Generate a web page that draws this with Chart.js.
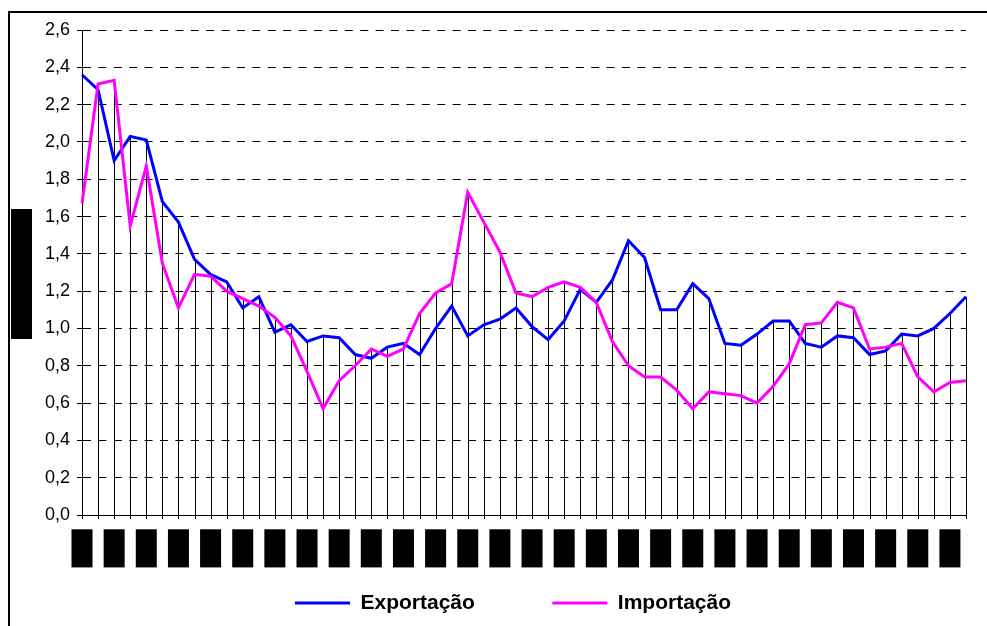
<!DOCTYPE html>
<html>
<head>
<meta charset="utf-8">
<script src="https://cdn.jsdelivr.net/npm/chart.js@4/dist/chart.umd.min.js"></script>
<style>
html,body{margin:0;padding:0;background:#fff;overflow:hidden;}
#wrap{position:relative;width:987px;height:626px;overflow:hidden;}
#frame{position:absolute;left:8px;top:11px;width:1200px;height:1000px;border-left:2px solid #000;border-top:2px solid #000;pointer-events:none;}
canvas{position:absolute;left:0;top:0;}
</style>
</head>
<body>
<div id="wrap"><canvas id="c" width="987" height="626"></canvas><div id="frame"></div></div>
<script>
const categories = [
  "1990.1","1990.2","1990.3","1990.4","1991.1","1991.2","1991.3","1991.4",
  "1992.1","1992.2","1992.3","1992.4","1993.1","1993.2","1993.3","1993.4",
  "1994.1","1994.2","1994.3","1994.4","1995.1","1995.2","1995.3","1995.4",
  "1996.1","1996.2","1996.3","1996.4","1997.1","1997.2","1997.3","1997.4",
  "1998.1","1998.2","1998.3","1998.4","1999.1","1999.2","1999.3","1999.4",
  "2000.1","2000.2","2000.3","2000.4","2001.1","2001.2","2001.3","2001.4",
  "2002.1","2002.2","2002.3","2002.4","2003.1","2003.2","2003.3","2003.4"
];
const exportacao = [2.36, 2.28, 1.90, 2.03, 2.01, 1.68, 1.57, 1.37, 1.29, 1.25, 1.11, 1.17, 0.98, 1.02, 0.93, 0.96, 0.95, 0.86, 0.84, 0.90, 0.92, 0.86, 1.00, 1.12, 0.96, 1.02, 1.05, 1.11, 1.01, 0.94, 1.04, 1.21, 1.14, 1.26, 1.47, 1.38, 1.10, 1.10, 1.24, 1.16, 0.92, 0.91, 0.97, 1.04, 1.04, 0.92, 0.90, 0.96, 0.95, 0.86, 0.88, 0.97, 0.96, 1.00, 1.08, 1.17];
const importacao = [1.67, 2.31, 2.33, 1.55, 1.87, 1.35, 1.11, 1.29, 1.28, 1.20, 1.16, 1.12, 1.06, 0.96, 0.77, 0.57, 0.72, 0.80, 0.89, 0.85, 0.89, 1.08, 1.19, 1.24, 1.73, 1.57, 1.41, 1.19, 1.17, 1.22, 1.25, 1.22, 1.14, 0.93, 0.80, 0.74, 0.74, 0.67, 0.57, 0.66, 0.65, 0.64, 0.60, 0.69, 0.81, 1.02, 1.03, 1.14, 1.11, 0.89, 0.90, 0.92, 0.74, 0.66, 0.71, 0.72];
const seriesNames = ["Exportação", "Importação"];
const yTickValues = [0, 0.2, 0.4, 0.6, 0.8, 1.0, 1.2, 1.4, 1.6, 1.8, 2.0, 2.2, 2.4, 2.6];
const yTitle = "Índice";

const FONT = "'Liberation Sans', Arial, sans-serif";

const dropLines = {
  id: 'dropLines',
  beforeDatasetsDraw(chart) {
    const {ctx, chartArea} = chart;
    const a = chart.getDatasetMeta(0).data, b = chart.getDatasetMeta(1).data;
    ctx.save();
    ctx.strokeStyle = '#000';
    ctx.lineWidth = 1;
    ctx.beginPath();
    for (let i = 0; i < a.length; i++) {
      const px = Math.round(a[i].x) + 0.5;
      const top = Math.min(a[i].y, b[i].y);
      ctx.moveTo(px, top);
      ctx.lineTo(px, chartArea.bottom + 4);
    }
    ctx.stroke();
    ctx.restore();
  }
};

const yTitleBox = {
  id: 'yTitleBox',
  afterDraw(chart) {
    const {ctx, chartArea} = chart;
    const cy = (chartArea.top + chartArea.bottom) / 2 + 1.5;
    const w = 21, h = 130, x = 11;
    ctx.save();
    ctx.fillStyle = '#000';
    ctx.fillRect(x, cy - h / 2, w, h);
    ctx.translate(x + w / 2, cy);
    ctx.rotate(-Math.PI / 2);
    ctx.font = "bold 16px " + FONT;
    ctx.textAlign = 'center';
    ctx.textBaseline = 'middle';
    ctx.fillText(yTitle, 0, 0);
    ctx.restore();
  }
};

new Chart(document.getElementById('c'), {
  type: 'line',
  data: {
    labels: categories,
    datasets: [
      {label: seriesNames[0], data: exportacao, borderColor: '#0000FF', backgroundColor: '#0000FF',
       borderWidth: 3, pointRadius: 0, tension: 0, order: 1},
      {label: seriesNames[1], data: importacao, borderColor: '#FF00FF', backgroundColor: '#FF00FF',
       borderWidth: 3, pointRadius: 0, tension: 0, order: 0}
    ]
  },
  options: {
    responsive: false,
    animation: false,
    devicePixelRatio: 1,
    layout: {padding: {left: 39, right: 0, top: 30, bottom: 2.5}},
    plugins: {
      tooltip: {enabled: false},
      legend: {
        position: 'bottom',
        labels: {
          boxWidth: 55,
          boxHeight: 3,
          padding: 6,
          color: '#000',
          font: {family: FONT, size: 21, weight: 'bold'},
          generateLabels(chart) {
            const items = Chart.defaults.plugins.legend.labels.generateLabels(chart)
              .sort((p, q) => p.datasetIndex - q.datasetIndex);
            items.forEach(it => { it.lineWidth = 0; });
            const spacer = {text: '', fillStyle: 'rgba(0,0,0,0)', strokeStyle: 'rgba(0,0,0,0)', lineWidth: 0, hidden: false, datasetIndex: -1};
            return [items[0], spacer, items[1]];
          }
        }
      }
    },
    scales: {
      x: {
        offset: false,
        grid: {display: false},
        border: {display: true, color: '#000', width: 1},
        ticks: {
          autoSkip: true,
          maxTicksLimit: 28,
          minRotation: 90,
          maxRotation: 90,
          color: '#000',
          padding: 7,
          labelOffset: -7.2,
          font: {family: FONT, size: 12},
          showLabelBackdrop: true,
          backdropColor: '#000',
          backdropPadding: {top: 3.3, bottom: 3.3, left: 0.7, right: 0.7}
        },
        afterFit(s) { s.height = 71.5; }
      },
      y: {
        min: 0,
        max: 2.6,
        afterBuildTicks(s) { s.ticks = yTickValues.map(v => ({value: v})); },
        afterFit(s) { s.width = 43; },
        grid: {color: '#000', lineWidth: 1, tickLength: 5, tickColor: '#000', tickBorderDash: [], drawTicks: true},
        border: {display: true, color: '#000', width: 1, dash: [8, 7.4]},
        ticks: {
          color: '#000',
          padding: 7,
          font: {family: FONT, size: 18},
          callback: v => v.toFixed(1).replace('.', ',')
        }
      },
      yRightMargin: {
        type: 'linear',
        position: 'right',
        display: true,
        grid: {display: false, drawOnChartArea: false},
        border: {display: false},
        ticks: {display: false},
        afterFit(s) { s.width = 21; }
      }
    }
  },
  plugins: [dropLines, yTitleBox]
});
</script>
</body>
</html>
